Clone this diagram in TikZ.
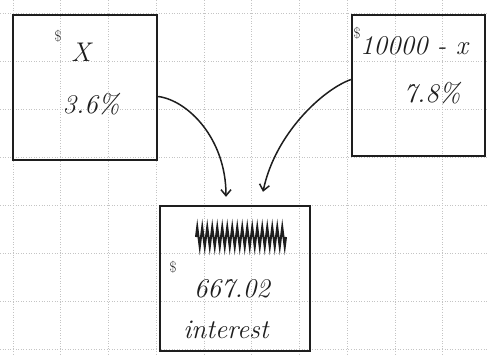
\documentclass[tikz,border=0pt]{standalone}
\usepackage{tikz}
\usetikzlibrary{arrows.meta}
\usetikzlibrary{decorations.pathmorphing}
\definecolor{pencil}{HTML}{1E1E1E}
\definecolor{gridgray}{HTML}{C4C4C4}

\begin{document}
\begin{tikzpicture}[x=1pt, y=-1pt, >={Straight Barb[length=6pt, width=10pt]}]
            \tikzset{account/.style={draw=pencil, line width=2.4pt, inner sep=0pt}};
            \tikzset{hand/.style={pencil, inner sep=0pt, font={\fontsize{27}{29}\selectfont\itshape}}};
            \tikzset{dollar/.style={pencil, inner sep=0pt, font={\fontsize{15}{16}\selectfont}}};
            \tikzset{arrow/.style={->, pencil, line width=1.5pt}};
            \useasboundingbox (0, 0) rectangle (487, 354);
            \fill[white] (0, 0) rectangle (487, 354);
            % Grid paper
            \foreach \i in {0,...,9}
                \draw[gridgray, dotted, line width=0.6pt] (13+47.75*\i, 0) -- (13+47.75*\i, 354);
            \foreach \j in {0,...,7}
                \draw[gridgray, dotted, line width=0.6pt] (0, 13+48*\j) -- (487, 13+48*\j);
            % First deposit
            \node[account, minimum width=144pt, minimum height=145pt] (xbox) at (85, 87.5) {};
            \node[dollar] (xdollar) at (58, 36) {\$};
            \node[hand] (xamount) at (81, 52) {X};
            \node[hand] (xrate) at (91, 104) {3.6\%};
            % Second deposit
            \node[account, minimum width=133pt, minimum height=141pt] (ybox) at (418.5, 85.5) {};
            \node[dollar] (ydollar) at (357, 33) {\$};
            \node[hand] (yamount) at (414, 46) {10000 - x};
            \node[hand] (yrate) at (432, 93) {7.8\%};
            % Total interest
            \node[account, minimum width=150pt, minimum height=145pt] (totalbox) at (235, 278.5) {};
            \draw[pencil, line width=2pt, decorate, decoration={zigzag, amplitude=10pt, segment length=5pt}] (196, 237) -- (286, 237);
            \node[dollar] (tdollar) at (173, 267) {\$};
            \node[hand] (tamount) at (232, 289) {667.02};
            \node[hand] (tlabel) at (226, 330) {interest};
            % Arrows
            \draw[arrow] (xbox.-7) .. controls +(30, 4) and +(0, -58) .. ([xshift=-9pt, yshift=8pt]totalbox.north);
            \draw[arrow] (ybox.175) .. controls +(-28, 10) and +(12, -58) .. ([xshift=28pt, yshift=13pt]totalbox.north);
\end{tikzpicture}
\end{document}
